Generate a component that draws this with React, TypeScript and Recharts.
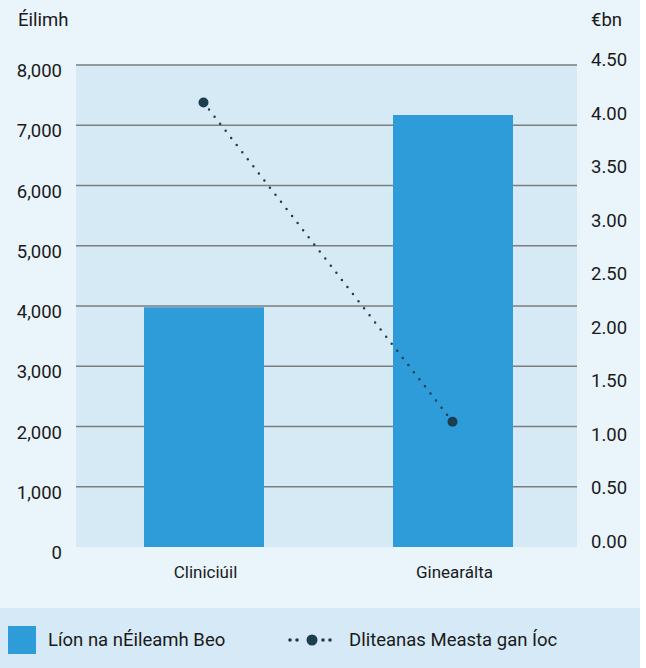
import { ComposedChart, Bar, Line, XAxis, YAxis, CartesianGrid, Legend } from "recharts";

const categories = ["Cliniciúil", "Ginearálta"];
const claims = [3980, 7170];
const liabilities = [4.15, 1.17];
const leftTicks = [0, 1000, 2000, 3000, 4000, 5000, 6000, 7000, 8000];
const rightTicks = [0, 0.5, 1, 1.5, 2, 2.5, 3, 3.5, 4, 4.5];

const data = categories.map((name, i) => ({
  name,
  claims: claims[i],
  liability: liabilities[i],
}));

const FONT = "Roboto, 'Noto Sans', sans-serif";
const TEXT = "#1a1a1a";
const BAR = "#2e9cd8";
const LINE = "#1c3e4e";

const LeftTick = ({ y, payload }: any) => (
  <text x={62} y={y + 12} textAnchor="end" fill={TEXT} fontSize={18.5} fontFamily={FONT}>
    {payload.value.toLocaleString("en-US")}
  </text>
);

const RightTick = ({ y, payload }: any) => (
  <text x={591} y={y + 1} textAnchor="start" fill={TEXT} fontSize={18.5} fontFamily={FONT}>
    {payload.value.toFixed(2)}
  </text>
);

const BottomTick = ({ x, payload }: any) => (
  <text x={x + 2} y={578} textAnchor="middle" fill={TEXT} fontSize={17} fontFamily={FONT}>
    {payload.value}
  </text>
);

const LegendBox = () => (
  <div
    style={{
      width: 640,
      height: 60,
      background: "#d5e9f6",
      position: "relative",
      fontFamily: FONT,
      fontSize: 18.5,
      color: TEXT,
    }}
  >
    <div style={{ position: "absolute", left: 8, top: 18, width: 28, height: 28, background: BAR }} />
    <span style={{ position: "absolute", left: 48, top: 21, lineHeight: "22px" }}>Líon na nÉileamh Beo</span>
    <svg style={{ position: "absolute", left: 280, top: 22 }} width={60} height={20}>
      <circle cx={10} cy={10} r={1.8} fill={LINE} />
      <circle cx={17} cy={10} r={1.8} fill={LINE} />
      <circle cx={32} cy={10} r={5.5} fill={LINE} />
      <circle cx={43} cy={10} r={1.8} fill={LINE} />
      <circle cx={50} cy={10} r={1.8} fill={LINE} />
    </svg>
    <span style={{ position: "absolute", left: 349, top: 21, lineHeight: "22px" }}>Dliteanas Measta gan Íoc</span>
  </div>
);

export default function App() {
  return (
    <div
      style={{
        position: "absolute",
        left: 0,
        top: 0,
        width: 640,
        height: 668,
        background: "#e9f4fb",
        fontFamily: FONT,
      }}
    >
      <span style={{ position: "absolute", left: 18, top: 9, fontSize: 18.5, color: TEXT, lineHeight: "22px" }}>
        Éilimh
      </span>
      <span style={{ position: "absolute", left: 591, top: 9, fontSize: 18.5, color: TEXT, lineHeight: "22px" }}>
        €bn
      </span>
      <ComposedChart
        width={640}
        height={668}
        data={data}
        margin={{ top: 65, right: 0, bottom: 0, left: 0 }}
        barCategoryGap={0}
      >
        <CartesianGrid
          yAxisId="left"
          vertical={false}
          horizontalValues={leftTicks.slice(1)}
          fill="#d6eaf6"
          stroke="#7d7d7d"
          strokeWidth={1.5}
        />
        <XAxis
          dataKey="name"
          height={61}
          padding={{ left: 3, right: 0 }}
          axisLine={false}
          tickLine={false}
          tick={<BottomTick />}
        />
        <YAxis
          yAxisId="left"
          width={76}
          domain={[0, 8000]}
          ticks={leftTicks}
          axisLine={false}
          tickLine={false}
          tick={<LeftTick />}
        />
        <YAxis
          yAxisId="right"
          orientation="right"
          width={63}
          domain={[0, 4.5]}
          ticks={rightTicks}
          axisLine={false}
          tickLine={false}
          tick={<RightTick />}
        />
        <Bar yAxisId="left" dataKey="claims" fill={BAR} barSize={120} isAnimationActive={false} />
        <Line
          yAxisId="right"
          type="linear"
          dataKey="liability"
          stroke={LINE}
          strokeWidth={2.5}
          strokeDasharray="0 9"
          strokeLinecap="round"
          dot={{ r: 5, fill: LINE, stroke: "none" }}
          activeDot={false}
          isAnimationActive={false}
        />
        <Legend
          verticalAlign="bottom"
          content={<LegendBox />}
          wrapperStyle={{ left: 0, bottom: 0, width: 640, height: 60 }}
        />
      </ComposedChart>
    </div>
  );
}
